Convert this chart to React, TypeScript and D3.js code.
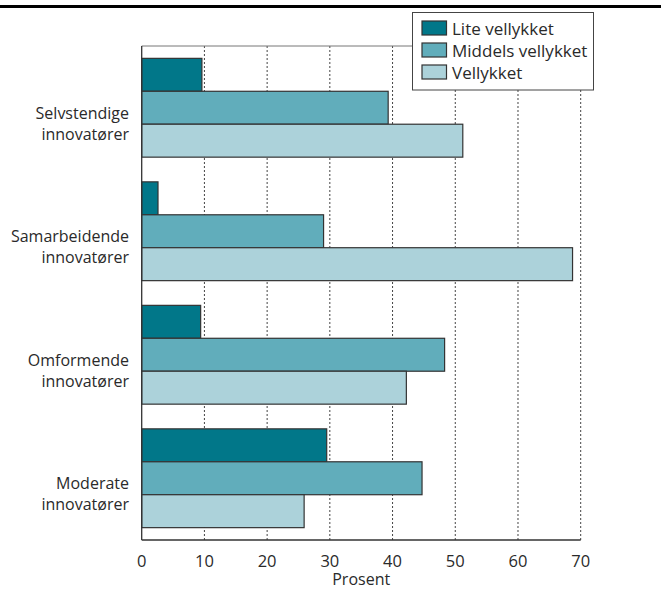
import React from "react";
import * as d3 from "d3";

const categories = ["Selvstendige innovatører", "Samarbeidende innovatører", "Omformende innovatører", "Moderate innovatører"];
const seriesNames = ["Lite vellykket", "Middels vellykket", "Vellykket"];
const liteVellykket = [9.6, 2.6, 9.4, 29.5];
const middelsVellykket = [39.3, 29.0, 48.3, 44.7];
const vellykket = [51.2, 68.7, 42.2, 25.9];
const xTicks = [0, 10, 20, 30, 40, 50, 60, 70];
const axisTitle = "Prosent";

const colors = ["#017789", "#61adbb", "#acd2da"];
const W = 661;
const H = 590;
const FONT = "'Open Sans', 'Noto Sans', sans-serif";

export default function App() {
  const series = [liteVellykket, middelsVellykket, vellykket];
  const left = 141.7;
  const right = 580.7;
  const top = 46;
  const bottom = 540;
  const x = d3.scaleLinear().domain([0, 70]).range([left, right]);
  const y = d3.scaleBand<string>().domain(categories).range([top, bottom]).paddingInner(0.2).paddingOuter(0.1);
  const inner = d3.scaleBand<string>().domain(seriesNames).range([0, y.bandwidth()]).padding(0);

  return (
    <svg width={W} height={H} style={{ position: "absolute", left: 0, top: 0, fontFamily: FONT }}>
      <rect x={0} y={5} width={W} height={3} fill="#000" />
      {/* gridlines */}
      {xTicks.slice(1).map((t) => (
        <line key={t} x1={x(t)} x2={x(t)} y1={top} y2={bottom} stroke="#444" strokeWidth={1} strokeDasharray="2,2" />
      ))}
      <line x1={left} x2={right} y1={top} y2={top} stroke="#777" strokeWidth={1} />
      {/* bars */}
      {categories.map((c, i) => (
        <g key={c} transform={`translate(0,${y(c)})`}>
          {series.map((s, j) => (
            <rect
              key={j}
              x={x(0)}
              y={inner(seriesNames[j])}
              width={x(s[i]) - x(0)}
              height={inner.bandwidth()}
              fill={colors[j]}
              stroke="#333"
              strokeWidth={1.2}
            />
          ))}
        </g>
      ))}
      {/* axes */}
      <line x1={left} x2={left} y1={top} y2={bottom} stroke="#333" strokeWidth={1.3} />
      <line x1={left} x2={right} y1={bottom} y2={bottom} stroke="#333" strokeWidth={1.3} />
      {xTicks.map((t) => (
        <text key={t} x={x(t)} y={566.5} textAnchor="middle" fontSize={16.5} fill="#2a2a2a">
          {t}
        </text>
      ))}
      <text x={(left + right) / 2} y={585} textAnchor="middle" fontSize={16} fill="#2a2a2a">
        {axisTitle}
      </text>
      {/* category labels */}
      {categories.map((c) => {
        const [a, b] = c.split(" ");
        const cy = (y(c) as number) + y.bandwidth() / 2;
        return (
          <text key={c} textAnchor="end" fontSize={16} fill="#2a2a2a">
            <tspan x={129} y={cy + 11}>{a}</tspan>
            <tspan x={129} y={cy + 32}>{b}</tspan>
          </text>
        );
      })}
      {/* legend */}
      <rect x={412.5} y={12.5} width={181} height={77.5} fill="#fff" stroke="#444" strokeWidth={1} />
      {seriesNames.map((n, j) => (
        <g key={n} transform={`translate(422,${21 + j * 22})`}>
          <rect x={0} y={0} width={24.5} height={14} fill={colors[j]} stroke="#333" strokeWidth={1.2} />
          <text x={30} y={13.5} fontSize={17} fill="#2a2a2a">
            {n}
          </text>
        </g>
      ))}
    </svg>
  );
}
